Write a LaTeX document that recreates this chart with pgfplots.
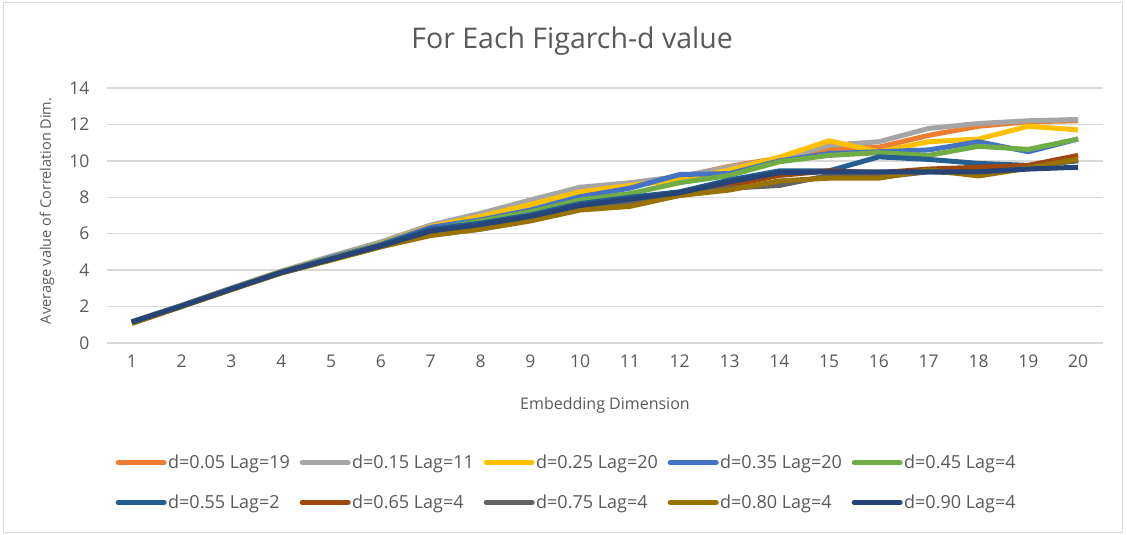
\documentclass[border=0pt]{standalone}
\usepackage{fontspec}
\setmainfont{Open Sans}
\usepackage{pgfplots}
\pgfplotsset{compat=1.18}

\definecolor{cA}{HTML}{ED7D31}
\definecolor{cB}{HTML}{A5A5A5}
\definecolor{cC}{HTML}{FFC000}
\definecolor{cD}{HTML}{4472C4}
\definecolor{cE}{HTML}{70AD47}
\definecolor{cF}{HTML}{255E91}
\definecolor{cG}{HTML}{9E480E}
\definecolor{cH}{HTML}{636363}
\definecolor{cI}{HTML}{997300}
\definecolor{cJ}{HTML}{264478}
\definecolor{txt}{HTML}{595959}
\definecolor{grid}{HTML}{D9D9D9}

% columns: embedding dimension, then one column per d value
\pgfplotstableread{
x   A     B     C     D     E     F     G     H     I     J
1   1.15  1.18  1.13  1.15  1.15  1.15  1.10  1.10  1.08  1.15
2   2.05  2.07  2.05  2.05  2.05  2.04  2.02  2.02  2.00  2.03
3   3.00  3.02  3.00  3.00  2.98  2.97  2.95  2.95  2.93  2.96
4   3.93  3.95  3.92  3.90  3.90  3.88  3.85  3.85  3.85  3.87
5   4.72  4.77  4.70  4.70  4.65  4.62  4.58  4.58  4.55  4.60
6   5.50  5.55  5.45  5.42  5.40  5.38  5.32  5.30  5.28  5.33
7   6.40  6.48  6.40  6.35  6.20  6.25  6.00  5.95  5.90  6.15
8   7.00  7.12  6.95  6.76  6.70  6.58  6.30  6.25  6.25  6.50
9   7.60  7.85  7.60  7.30  7.20  7.03  6.80  6.75  6.70  6.95
10  8.30  8.55  8.30  8.03  7.85  7.65  7.45  7.35  7.30  7.55
11  8.70  8.80  8.65  8.50  8.20  8.00  7.65  7.70  7.50  7.90
12  9.10  9.15  8.95  9.25  8.80  8.30  8.15  8.10  8.10  8.25
13  9.70  9.65  9.50  9.30  9.20  8.95  8.65  8.50  8.40  8.85
14  10.15 10.10 10.20 10.00 9.95  9.45  9.20  8.65  8.90  9.35
15  10.65 10.85 11.10 10.40 10.30 9.45  9.45  9.20  9.05  9.40
16  10.75 11.05 10.50 10.50 10.45 10.22 9.35  9.10  9.05  9.40
17  11.40 11.78 11.05 10.60 10.30 10.08 9.55  9.40  9.50  9.40
18  11.90 12.05 11.20 11.05 10.80 9.86  9.65  9.30  9.17  9.40
19  12.15 12.20 11.90 10.50 10.63 9.75  9.75  9.60  9.60  9.55
20  12.20 12.27 11.70 11.20 11.20 10.00 10.30 10.05 10.10 9.65
}\dimtab

\begin{document}
\begin{tikzpicture}
\useasboundingbox (-107pt,-192pt) rectangle (1020pt,343pt);
\draw[grid, line width=1pt] (-103pt,-189pt) rectangle (1015pt,340pt);
\begin{axis}[
  scale only axis, width=996pt, height=255pt,
  xmin=0.5, xmax=20.5, ymin=0, ymax=14,
  xtick={1,...,20}, ytick={0,2,...,14},
  ymajorgrids, grid style={draw=grid, line width=1.3pt},
  axis line style={draw=none},
  major tick length=0pt,
  /pgf/number format/assume math mode=true,
  tick label style={font=\fontsize{17.5}{20}\selectfont, text=txt},
  yticklabel style={xshift=-14pt},
  xticklabel style={yshift=-8pt},
  title={For Each Figarch-d value},
  title style={at={(axis description cs:0.467,1.13)}, anchor=base, font=\fontsize{28.5}{34}\selectfont, text=txt},
  xlabel={Embedding Dimension},
  xlabel style={at={(axis description cs:0.5,-0.245)}, anchor=center, font=\fontsize{16}{18}\selectfont, text=txt},
  ylabel={Average value of Correlation Dim.},
  ylabel style={at={(axis description cs:-0.0602,0.518)}, anchor=center, rotate=0, font=\fontsize{14.5}{17}\selectfont, text=txt},
  legend columns=5,
  legend cell align=left,
  legend image code/.code={\draw[#1, line cap=round] (0pt,0pt) -- (46pt,0pt);},
  legend style={at={(axis description cs:0.0085,-0.433)}, anchor=north west,
    draw=none, fill=none, inner sep=0pt, column sep=0pt, row sep=21.5pt,
    nodes={inner sep=1.5pt}, font=\fontsize{18}{21}\selectfont, text=txt},
  every axis plot/.append style={line width=5pt, line join=round, mark=none},
]
\addplot[cA] table[x=x, y=A] {\dimtab};
\addlegendentry{\makebox[130pt][l]{d=0.05 Lag=19}}
\addplot[cB] table[x=x, y=B] {\dimtab};
\addlegendentry{\makebox[130pt][l]{d=0.15 Lag=11}}
\addplot[cC] table[x=x, y=C] {\dimtab};
\addlegendentry{\makebox[130pt][l]{d=0.25 Lag=20}}
\addplot[cD] table[x=x, y=D] {\dimtab};
\addlegendentry{\makebox[130pt][l]{d=0.35 Lag=20}}
\addplot[cE] table[x=x, y=E] {\dimtab};
\addlegendentry{\makebox[130pt][l]{d=0.45 Lag=4}}
\addplot[cF] table[x=x, y=F] {\dimtab};
\addlegendentry{\makebox[130pt][l]{d=0.55 Lag=2}}
\addplot[cG] table[x=x, y=G] {\dimtab};
\addlegendentry{\makebox[130pt][l]{d=0.65 Lag=4}}
\addplot[cH] table[x=x, y=H] {\dimtab};
\addlegendentry{\makebox[130pt][l]{d=0.75 Lag=4}}
\addplot[cI] table[x=x, y=I] {\dimtab};
\addlegendentry{\makebox[130pt][l]{d=0.80 Lag=4}}
\addplot[cJ] table[x=x, y=J] {\dimtab};
\addlegendentry{\makebox[130pt][l]{d=0.90 Lag=4}}
\end{axis}
\end{tikzpicture}
\end{document}
